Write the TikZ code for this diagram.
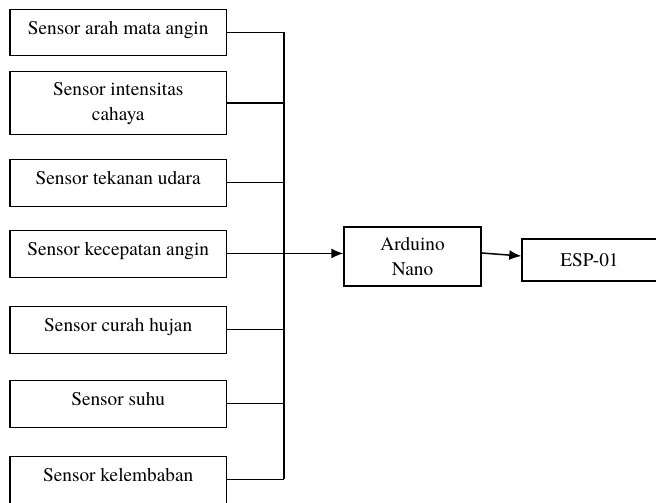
\documentclass[tikz,border=0pt]{standalone}
\usepackage{fontspec}
\setmainfont{TeX Gyre Termes}
\usetikzlibrary{arrows.meta}
\begin{document}
\begin{tikzpicture}[x=1pt,y=-1pt,
  font=\fontsize{19.3}{25}\selectfont,
  every node/.style={line width=1.4pt},
  sbox/.style={draw, anchor=north west, minimum width=216.4pt, inner xsep=4pt,
    inner ysep=8pt, text height=17pt, text depth=14pt},
  tbox/.style={draw, anchor=north west, minimum width=216.4pt, minimum height=63pt,
    align=center, inner sep=4pt},
  cbox/.style={draw, align=center, inner sep=4pt},
  wire/.style={line width=1.5pt},
  arr/.style={line width=1.5pt, -{Latex[length=12pt,width=10pt]}}]
\useasboundingbox (0,0) rectangle (656,503);
\clip (0,0) rectangle (656,503);
\node[sbox, text depth=13pt] (s1) at (9.3,9) {Sensor arah mata angin};
\node[tbox] (s2) at (9.3,71) {Sensor intensitas\\cahaya};
\node[sbox] (s3) at (9.3,159) {Sensor tekanan udara};
\node[sbox] (s4) at (9.3,230) {Sensor kecepatan angin};
\node[sbox] (s5) at (9.3,306) {Sensor curah hujan};
\node[sbox] (s6) at (9.3,380) {Sensor suhu};
\node[sbox, text depth=40pt] (s7) at (9.3,456) {Sensor kelembaban};
\node[cbox, minimum width=137pt, minimum height=59pt] (ard) at (412.5,256.5) {Arduino\\Nano};
\node[cbox, minimum width=135pt, minimum height=42pt] (esp) at (589.5,260) {ESP-01};
\coordinate (bus) at (284,0);
\draw[wire] (s1.mid east -| bus) -- (s7.mid east -| bus);
\foreach \s in {s1,s3,s5,s6,s7}
  \draw[wire] (\s.mid east) -- (\s.mid east -| bus);
\draw[wire] (s2.east) -- (s2.east -| bus);
\draw[arr] (s4.mid east) -- (s4.mid east -| ard.west);
\draw[arr] ([yshift=3.5pt]ard.east) -- ([yshift=4pt]esp.west);
\end{tikzpicture}
\end{document}
